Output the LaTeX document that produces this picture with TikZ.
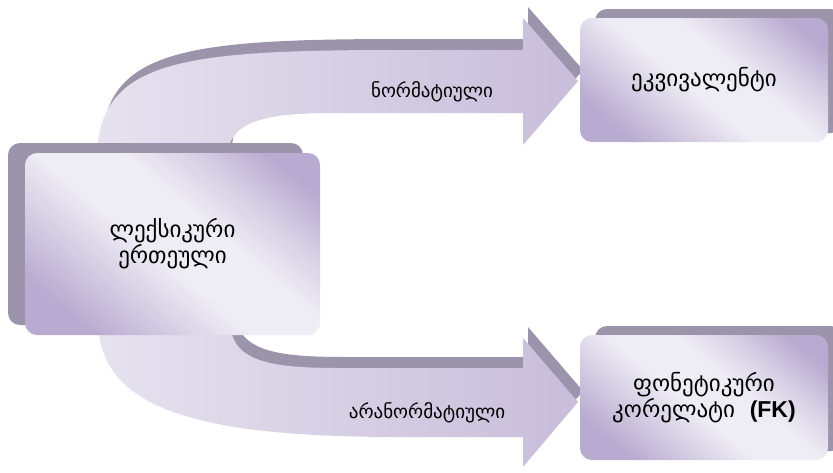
\documentclass[tikz,border=0pt]{standalone}
\usepackage{fontspec}
\setmainfont{DejaVu Sans}
\newfontfamily\latinlab{Liberation Sans}
\usetikzlibrary{calc}
\definecolor{shadowc}{RGB}{155,148,170}
\definecolor{boxdark}{RGB}{184,170,208}
\definecolor{boxmid}{RGB}{214,207,228}
\definecolor{boxlight}{RGB}{238,236,244}
\definecolor{arrlight}{RGB}{230,226,239}
\definecolor{arrdark}{RGB}{200,189,218}
\pgfdeclareverticalshading{boxshade}{100bp}{color(0bp)=(boxdark); color(24bp)=(boxdark); color(36bp)=(boxmid); color(46bp)=(boxlight); color(58bp)=(boxlight); color(68bp)=(boxmid); color(78bp)=(boxdark); color(100bp)=(boxdark)}
\tikzset{
  boxnode/.style={rounded corners=12pt, inner sep=0pt, align=center,
    font=\fontsize{23}{26}\selectfont,
    shading=boxshade, shading angle=-40},
  boxshadow/.style={fill=shadowc, rounded corners=12pt},
  arrshadow/.style={fill=shadowc},
  arrbody/.style={left color=arrlight, right color=arrdark},
  lbl/.style={font=\fontsize{19}{22}\selectfont}
}
\begin{document}
\begin{tikzpicture}[x=1pt,y=-1pt]
\clip (0,0) rectangle (833,472);
\fill[white] (0,0) rectangle (833,472);
% top arrow
\path[arrshadow, shift={(5,-11)}] (97,160) .. controls (97,60) and (180,50) .. (400,50) -- (523,50) -- (523,18) -- (578,81) -- (523,145) -- (523,113) -- (340,113) .. controls (270,113) and (227,118) .. (227,160) -- cycle;
\path[arrbody] (97,160) .. controls (97,60) and (180,50) .. (400,50) -- (523,50) -- (523,18) -- (578,81) -- (523,145) -- (523,113) -- (340,113) .. controls (270,113) and (227,118) .. (227,160) -- cycle;
% bottom arrow
\path[arrshadow, shift={(5,-11)}] (98,320) .. controls (98,410) and (200,437) .. (400,437) -- (523,437) -- (523,467) -- (578,402) -- (523,338) -- (523,368) -- (340,368) .. controls (270,368) and (230,362) .. (230,320) -- cycle;
\path[arrbody] (98,320) .. controls (98,410) and (200,437) .. (400,437) -- (523,437) -- (523,467) -- (578,402) -- (523,338) -- (523,368) -- (340,368) .. controls (270,368) and (230,362) .. (230,320) -- cycle;
\node[lbl] (norm) at (432,92) {ნორმატიული};
\node[lbl] (anorm) at (427,413) {არანორმატიული};
% boxes
\coordinate (lexc) at (172.5,244);
\coordinate (eqc) at (704,80);
\coordinate (fkc) at (704,397.5);
\fill[boxshadow] ($(lexc)+(-164.5,-101)$) rectangle ($(lexc)+(130.5,81)$);
\fill[boxshadow] ($(eqc)+(-109,-71)$) rectangle ($(eqc)+(139,53)$);
\fill[boxshadow] ($(fkc)+(-109,-71.5)$) rectangle ($(fkc)+(139,53.5)$);
\node[boxnode, minimum width=295pt, minimum height=182pt] (lex) at (lexc) {ლექსიკური\\ერთეული};
\node[boxnode, minimum width=248pt, minimum height=124pt] (eq) at (eqc) {ეკვივალენტი};
\node[boxnode, minimum width=248pt, minimum height=125pt] (fk) at (fkc) {ფონეტიკური\\კორელატი~ {\latinlab\bfseries (FK)}};
\end{tikzpicture}
\end{document}
